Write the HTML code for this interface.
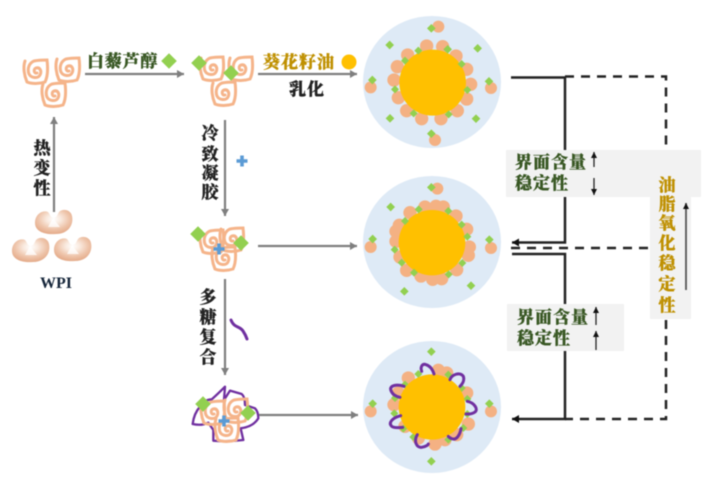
<!DOCTYPE html>
<html><head><meta charset="utf-8"><style>
html,body{margin:0;padding:0;background:#fff;width:715px;height:492px;overflow:hidden}
svg{display:block;filter:blur(.5px)}
text{font-family:"Liberation Serif","Noto Serif CJK SC",serif;font-weight:900;font-size:17px;stroke-width:.3px}
.c{text-anchor:middle}
.g{fill:#385723;stroke:#385723}.y{fill:#BF9000;stroke:#BF9000}.k{fill:#222;stroke:#222}
.b circle{r:20px}
.b circle.o{r:18px}
</style></head><body>
<svg width="715" height="492" viewBox="0 0 715 492" xmlns="http://www.w3.org/2000/svg">
<defs>
<radialGradient id="kid" cx=".5" cy=".38" r=".7"><stop offset="0" stop-color="#fff"/><stop offset=".28" stop-color="#F9E9DE"/><stop offset=".6" stop-color="#EEC4AA"/><stop offset="1" stop-color="#E0A07C"/></radialGradient>
<g id="kidney"><path d="M-19,1 C-19,-9 -10,-12 -6,-10 C-4,-8 -4,-5 -1,-4 C3,-4 3,-7 5,-10 C9,-14 17,-12 18,-6 C20,3 14,12 2,12 C-10,13 -19,9 -19,1 Z" fill="url(#kid)"/><path d="M-6,5 L-1,-4 L6,5 Z" fill="#fff" opacity=".75"/></g>
<path id="sp" fill="none" stroke="#F5B48A" stroke-width="3" stroke-linecap="round" d="M1,2 C-2,3 -3,-2 0,-3 C4,-4 6,0 4,4 C2,8 -5,7 -7,3 C-9,-2 -7,-8 -2,-10 C3,-11 9,-11 11,-11 C12,-3 12,5 9,11 C3,13 -4,13 -9,11 C-12,4 -13,-4 -11,-10"/>
<rect id="d" x="-5.5" y="-5.5" width="11" height="11" fill="#92D050" transform="rotate(45)"/>
<path id="cr" d="M-5.5,0H5.5M0,-5.5V5.5" stroke="#5B9BD5" stroke-width="3.6" fill="none"/>
<marker id="ga" markerWidth="9" markerHeight="9" refX="7" refY="4" orient="auto" markerUnits="userSpaceOnUse"><path d="M0,0L7,4L0,8Z" fill="#7F7F7F"/></marker>
<marker id="ka" markerWidth="9" markerHeight="9" refX="7" refY="4" orient="auto" markerUnits="userSpaceOnUse"><path d="M0,0L7,4L0,8Z" fill="#111"/></marker>
<marker id="ks" markerWidth="7" markerHeight="7" refX="6" refY="3" orient="auto" markerUnits="userSpaceOnUse"><path d="M0,0L6,3L0,6Z" fill="#111"/></marker>
</defs>
<rect width="715" height="492" fill="#fff"/>

<!-- Left proteins -->
<use href="#kidney" x="54" y="222"/><use href="#kidney" x="31" y="250"/><use href="#kidney" x="73" y="249"/>
<text x="56" y="288" class="c" fill="#16263a" style="font-size:16px;stroke:none">WPI</text>
<use href="#sp" x="36" y="71"/><use href="#sp" x="68" y="69"/><use href="#sp" x="54" y="94"/>
<use href="#sp" x="212" y="68"/><use href="#sp" x="241" y="68"/><use href="#sp" x="224" y="93"/>
<use href="#d" x="199" y="63"/><use href="#d" x="231" y="73"/>
<use href="#sp" x="212" y="241"/><use href="#sp" x="232" y="239"/><use href="#sp" x="224" y="258"/>
<use href="#d" x="198" y="234"/><use href="#d" x="241" y="243"/><use href="#cr" x="219" y="249"/>
<g transform="translate(180,380) scale(.3333)"><path fill="none" stroke="#7030A0" stroke-width="7" stroke-linejoin="round" d="M135,20 Q110,45 95,58 Q70,60 60,80 Q42,100 38,132 Q65,138 85,128 L100,150 L100,182 Q140,186 190,180 L182,145 Q220,140 235,115 Q235,95 225,85 L195,75 Q195,50 185,42 L150,32 L132,60 Z"/></g>
<use href="#sp" x="213" y="412"/><use href="#sp" x="236" y="410"/><use href="#sp" x="227" y="429"/>
<use href="#d" x="203" y="404"/><use href="#d" x="248" y="413"/><use href="#cr" x="224" y="421"/>

<!-- grey arrows -->
<g stroke="#7F7F7F" stroke-width="2.2" fill="none">
<path d="M85,74H184" marker-end="url(#ga)"/><path d="M258,74H357" marker-end="url(#ga)"/>
<path d="M258,246H357" marker-end="url(#ga)"/><path d="M259,415H358" marker-end="url(#ga)"/>
<path d="M54,212V117" marker-end="url(#ga)"/><path d="M225,120V216" marker-end="url(#ga)"/><path d="M225,279V375" marker-end="url(#ga)"/>
</g>

<!-- top labels -->
<text x="87" y="67" class="g" style="letter-spacing:.8px">白藜芦醇</text>
<use href="#d" x="169" y="61"/>
<text x="263" y="68" class="y" style="letter-spacing:1px">葵花籽油</text>
<circle cx="349" cy="62" r="7.5" fill="#FFC000"/>
<text x="307" y="95" class="c k" style="letter-spacing:1px">乳化</text>
<g class="k">
<text x="42" y="154" class="c">热</text><text x="42" y="174" class="c">变</text><text x="42" y="194" class="c">性</text>
<text x="210" y="139" class="c">冷</text><text x="210" y="160" class="c">致</text><text x="210" y="179" class="c">凝</text><text x="210" y="198" class="c">胶</text>
<text x="208" y="303" class="c">多</text><text x="208" y="323" class="c">糖</text><text x="208" y="343" class="c">复</text><text x="208" y="363" class="c">合</text>
</g>
<use href="#cr" x="242" y="161"/>
<path d="M231,320 C234,328 240,326 243,331 C245,334 246,336 247,339" fill="none" stroke="#7030A0" stroke-width="3" stroke-linecap="round"/>

<!-- Circle 1 -->
<ellipse cx="432" cy="82" rx="69" ry="66" fill="#DEEAF6"/>
<g class="b" transform="translate(355,0) scale(.3333)" fill="#F4B183">
<circle cx="250" cy="80" class="o"/><circle cx="215" cy="138"/><circle cx="263" cy="140"/><circle cx="303" cy="168"/><circle cx="335" cy="208"/><circle cx="347" cy="253"/><circle cx="335" cy="297"/><circle cx="307" cy="332"/><circle cx="258" cy="356"/><circle cx="200" cy="356"/><circle cx="155" cy="332"/><circle cx="130" cy="293"/><circle cx="117" cy="240"/><circle cx="127" cy="200"/><circle cx="158" cy="165"/><circle cx="47" cy="262" class="o"/><circle cx="408" cy="264" class="o"/><circle cx="240" cy="420" class="o"/>
<ellipse cx="233" cy="248" rx="100" ry="99" fill="#FFC000"/>
<g fill="#92D050"><path d="M229,72l13,13l-13,13l-13,-13z"/><path d="M104,122l13,13l-13,13l-13,-13z"/><path d="M368,132l13,13l-13,13l-13,-13z"/><path d="M190,140l12,12l-12,12l-12,-12z"/><path d="M278,135l13,13l-13,13l-13,-13z"/><path d="M150,170l12,12l-12,12l-12,-12z"/><path d="M320,180l12,12l-12,12l-12,-12z"/><path d="M52,227l13,13l-13,13l-13,-13z"/><path d="M402,231l13,13l-13,13l-13,-13z"/><path d="M120,256l12,12l-12,12l-12,-12z"/><path d="M337,258l12,12l-12,12l-12,-12z"/><path d="M105,342l13,13l-13,13l-13,-13z"/><path d="M363,343l13,13l-13,13l-13,-13z"/><path d="M176,328l12,12l-12,12l-12,-12z"/><path d="M281,331l12,12l-12,12l-12,-12z"/><path d="M229,388l13,13l-13,13l-13,-13z"/></g>
</g>

<!-- Circle 2 -->
<ellipse cx="432" cy="242" rx="69" ry="66" fill="#DEEAF6"/>
<g class="b" transform="translate(360,172) scale(.3333)" fill="#F4B183">
<circle cx="232" cy="50" class="o"/><circle cx="195" cy="105"/><circle cx="228" cy="103"/><circle cx="250" cy="105"/><circle cx="150" cy="122"/><circle cx="288" cy="132"/><circle cx="320" cy="172"/><circle cx="118" cy="160"/><circle cx="108" cy="178"/><circle cx="108" cy="208"/><circle cx="120" cy="255"/><circle cx="140" cy="295"/><circle cx="183" cy="312"/><circle cx="218" cy="322"/><circle cx="245" cy="320"/><circle cx="290" cy="293"/><circle cx="325" cy="250"/><circle cx="328" cy="225"/><circle cx="32" cy="225" class="o"/><circle cx="393" cy="228" class="o"/>
<ellipse cx="216" cy="212" rx="100" ry="98" fill="#FFC000"/>
<g fill="#92D050"><path d="M214,33l13,13l-13,13l-13,-13z"/><path d="M92,92l13,13l-13,13l-13,-13z"/><path d="M176,100l12,12l-12,12l-12,-12z"/><path d="M265,105l12,12l-12,12l-12,-12z"/><path d="M135,135l12,12l-12,12l-12,-12z"/><path d="M305,146l12,12l-12,12l-12,-12z"/><path d="M322,182l12,12l-12,12l-12,-12z"/><path d="M38,188l13,13l-13,13l-13,-13z"/><path d="M388,190l13,13l-13,13l-13,-13z"/><path d="M104,221l12,12l-12,12l-12,-12z"/><path d="M125,260l12,12l-12,12l-12,-12z"/><path d="M307,261l12,12l-12,12l-12,-12z"/><path d="M162,290l12,12l-12,12l-12,-12z"/><path d="M266,295l12,12l-12,12l-12,-12z"/><path d="M133,345l13,13l-13,13l-13,-13z"/><path d="M333,328l13,13l-13,13l-13,-13z"/></g>
</g>

<!-- Circle 3 -->
<ellipse cx="432" cy="407" rx="69" ry="66" fill="#DEEAF6"/>
<g class="b" transform="translate(360,338) scale(.3333)" fill="#F4B183">
<circle cx="145" cy="120"/><circle cx="235" cy="97"/><circle cx="260" cy="105"/><circle cx="320" cy="165"/><circle cx="102" cy="200"/><circle cx="325" cy="258"/><circle cx="115" cy="165"/><circle cx="135" cy="265"/><circle cx="175" cy="300"/><circle cx="225" cy="318"/><circle cx="255" cy="305"/><circle cx="290" cy="290"/><circle cx="32" cy="220" class="o"/><circle cx="393" cy="220" class="o"/>
<g fill="#92D050"><path d="M214,28l13,13l-13,13l-13,-13z"/><path d="M214,357l13,13l-13,13l-13,-13z"/><path d="M38,184l13,13l-13,13l-13,-13z"/><path d="M388,184l13,13l-13,13l-13,-13z"/><path d="M175,96l12,12l-12,12l-12,-12z"/><path d="M265,98l12,12l-12,12l-12,-12z"/><path d="M135,128l12,12l-12,12l-12,-12z"/><path d="M305,138l12,12l-12,12l-12,-12z"/><path d="M322,171l12,12l-12,12l-12,-12z"/><path d="M105,168l12,12l-12,12l-12,-12z"/><path d="M103,214l12,12l-12,12l-12,-12z"/><path d="M322,216l12,12l-12,12l-12,-12z"/><path d="M310,258l12,12l-12,12l-12,-12z"/><path d="M130,260l12,12l-12,12l-12,-12z"/><path d="M160,285l12,12l-12,12l-12,-12z"/><path d="M265,293l12,12l-12,12l-12,-12z"/></g>
<ellipse cx="216" cy="207" rx="100" ry="98" fill="#FFC000"/>
<g fill="none" stroke="#7030A0" stroke-width="9" stroke-linecap="round">
<path d="M185,100 C180,85 188,76 198,80 C212,84 218,95 222,108"/>
<path d="M270,125 C275,110 300,100 310,115 C315,130 305,140 300,145"/>
<path d="M132,145 C110,138 90,142 92,155 C96,170 110,176 120,178"/>
<path d="M322,190 C345,195 355,215 345,222 C335,230 325,228 318,228"/>
<path d="M122,233 C95,240 85,255 95,265 C105,272 120,268 128,268"/>
<path d="M303,272 C300,290 290,308 275,302 C270,300 265,296 265,295"/>
<path d="M172,290 C160,310 170,330 185,328 C198,326 205,320 205,318"/>
</g>
</g>

<!-- Black connectors -->
<g fill="none" stroke="#222" stroke-width="2.5">
<path d="M511,77.5H565V242.5H512" marker-end="url(#ka)"/>
<path d="M512,254H565V419H512" marker-end="url(#ka)"/>
<g stroke-dasharray="9 7">
<path d="M565,76.5H666V170"/>
<path d="M511,248H652"/>
<path d="M666,320V419H565"/>
</g>
</g>

<!-- Grey panels -->
<rect x="506" y="150" width="195" height="47" fill="#F2F2F2"/>
<rect x="650" y="197" width="41" height="122" fill="#F2F2F2"/>
<rect x="507" y="304" width="117" height="47" fill="#F2F2F2"/>
<text x="515" y="168" class="g" style="letter-spacing:1px">界面含量</text>
<text x="515" y="189" class="g" style="letter-spacing:1px">稳定性</text>
<text x="517" y="323" class="g" style="letter-spacing:1px">界面含量</text>
<text x="517" y="344" class="g" style="letter-spacing:1px">稳定性</text>
<g class="y">
<text x="667" y="191" class="c">油</text><text x="667" y="210" class="c">脂</text><text x="667" y="229" class="c">氧</text><text x="667" y="249" class="c">化</text><text x="667" y="269" class="c">稳</text><text x="667" y="290" class="c">定</text><text x="667" y="311" class="c">性</text>
</g>
<g stroke="#222" stroke-width="1.3" fill="none">
<path d="M594,167V152" marker-end="url(#ks)"/><path d="M594,178V195" marker-end="url(#ks)"/>
<path d="M596,325V307" marker-end="url(#ks)"/><path d="M596,350V331" marker-end="url(#ks)"/>
</g>
<path d="M686,290V203" stroke="#555" stroke-width="1.8" fill="none" marker-end="url(#ks)"/>
</svg>
</body></html>
